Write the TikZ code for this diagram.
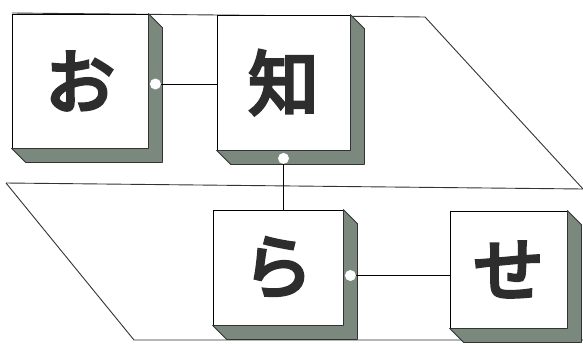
\documentclass[tikz,border=0pt]{standalone}
\usepackage{fontspec}
\newfontfamily\jpfont{Noto Sans CJK JP}[FakeBold=5]
\usetikzlibrary{positioning}
\usetikzlibrary{calc}
\definecolor{shadegray}{RGB}{122,136,126}
\definecolor{inkgray}{RGB}{45,45,45}
\tikzset{%
  plane/.style = {draw=black!80,line width=0.9pt},
  kana/.style = {rectangle,draw,fill=white,line width=0.8pt,
        inner sep=0pt,text=inkgray,
        font=\jpfont\fontsize{70}{70}\selectfont},
  side/.style = {fill=shadegray,draw=black!80,line width=0.8pt,line join=round},
  dot/.style = {circle,fill=white,inner sep=0pt,minimum size=11pt},
  link/.style = {draw,line width=0.8pt}
}
\newcommand{\extrude}[1]{%
  \path[side] (#1.north east) -- ([shift={(14,14)}]#1.north east)
    -- ([shift={(14,14)}]#1.south east) -- ([shift={(14,14)}]#1.south west)
    -- (#1.south west) -- (#1.south east) -- cycle;}
\begin{document}
\begin{tikzpicture}[x=1pt,y=-1pt]
  \useasboundingbox (0,0) rectangle (583,343);
  \clip (0,0) rectangle (583,343);
  % the two planes
  \coordinate (tl) at (12,13);
  \coordinate (tr) at (425,17);
  \coordinate (mr) at (583,189);
  \coordinate (ml) at (6,183);
  \coordinate (bl) at (134,340);
  \coordinate (br) at (583,340);
  \draw[plane] (tl) -- (tr) -- (mr);
  \draw[plane] (ml) -- (mr);
  \draw[plane] (ml) -- (bl) -- (br);
  % the four boxes
  \node[kana,minimum width=136pt,minimum height=134pt] (o) at (80,81) {\raisebox{-5pt}{お}};
  \node[kana,minimum width=133pt,minimum height=135pt] (chi) at (283.5,82.5) {\raisebox{-5pt}{知}};
  \node[kana,minimum width=130pt,minimum height=115pt] (ra) at (278,267.5) {ら};
  \node[kana,minimum width=117pt,minimum height=117pt] (se) at (508.5,269.5) {せ};
  \extrude{o}
  \extrude{chi}
  \extrude{ra}
  \extrude{se}
  % joints
  \node[dot] (j1) at ([shift={(7,3)}]o.east) {};
  \node[dot] (j2) at ([shift={(0,8)}]chi.south) {};
  \node[dot] (j3) at ([shift={(7,8)}]ra.east) {};
  \draw[link] (j1.east) -- (j1 -| chi.west);
  \draw[link] (j2.south) -- (j2 |- ra.north);
  \draw[link] (j3.east) -- (j3 -| se.west);
\end{tikzpicture}
\end{document}
